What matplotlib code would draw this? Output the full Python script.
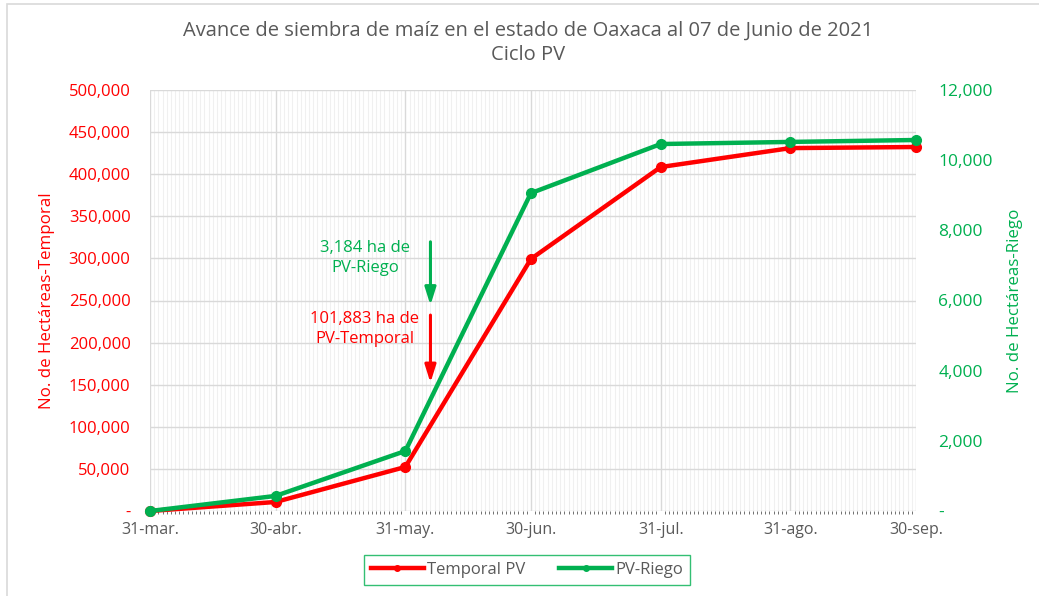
import datetime as dt
import matplotlib
matplotlib.use("Agg")
import matplotlib.pyplot as plt
import matplotlib.dates as mdates
from matplotlib.ticker import FuncFormatter, MultipleLocator, FixedLocator
from matplotlib.patches import Rectangle

plt.rcParams['font.family'] = ['Open Sans', 'DejaVu Sans']

# data
fechas = ["2021-03-31", "2021-04-30", "2021-05-31", "2021-06-30",
          "2021-07-31", "2021-08-31", "2021-09-30"]
etiquetas = ["31-mar.", "30-abr.", "31-may.", "30-jun.", "31-jul.", "31-ago.", "30-sep."]
temporal = [0, 10700, 52300, 299300, 408500, 431000, 432300]
riego = [0, 430, 1710, 9060, 10460, 10520, 10575]

ROJO = "#FF0000"
VERDE = "#00B050"
GRIS = "#595959"

x = [dt.datetime.strptime(f, "%Y-%m-%d") for f in fechas]
fecha_corte = dt.datetime(2021, 6, 6)

fig = plt.figure(figsize=(10.39, 5.96), dpi=100)
ax = fig.add_axes([150/1039, 85/596, 766/1039, 421/596])
ax2 = ax.twinx()

# grid: daily minor lines, month-end major lines
ax.set_xlim(x[0], x[-1])
ax.xaxis.set_major_locator(FixedLocator(mdates.date2num(x)))
ax.xaxis.set_minor_locator(mdates.DayLocator())
ax.set_xticklabels(etiquetas)
ax.grid(which="minor", axis="x", color="#F0F0F0", lw=0.8)
ax.grid(which="major", axis="x", color="#D9D9D9", lw=1.0)
ax.grid(which="major", axis="y", color="#D9D9D9", lw=1.0)
ax.set_axisbelow(True)

l1, = ax.plot(x, temporal, color=ROJO, lw=3.2, marker="o", ms=7, label="Temporal PV",
              zorder=3, clip_on=False)
l2, = ax2.plot(x, riego, color=VERDE, lw=3.2, marker="o", ms=7, label="PV-Riego",
               zorder=3, clip_on=False)

ax.set_ylim(0, 500000)
ax2.set_ylim(0, 12000)
ax.yaxis.set_major_locator(MultipleLocator(50000))
ax2.yaxis.set_major_locator(MultipleLocator(2000))

fmt = FuncFormatter(lambda v, p: "-" if v == 0 else f"{v:,.0f}")
ax.yaxis.set_major_formatter(fmt)
ax2.yaxis.set_major_formatter(fmt)

for a in (ax, ax2):
    for s in a.spines.values():
        s.set_visible(False)
    a.tick_params(length=0)

ax.tick_params(axis="y", colors=ROJO, labelsize=12, pad=14)
ax2.tick_params(axis="y", colors=VERDE, labelsize=12.5, pad=16)
ax.tick_params(axis="x", colors=GRIS, labelsize=11.5, pad=8, which="both")

ax.set_ylabel("No. de Hectáreas-Temporal", color=ROJO, fontsize=12.2, labelpad=10)
ax2.set_ylabel("No. de Hectáreas-Riego", color=VERDE, fontsize=12.2, labelpad=10)

# annotations
flecha = "-|>,head_width=0.22,head_length=0.7"
ax.annotate("", xy=(fecha_corte, 241000), xytext=(fecha_corte, 323000),
            arrowprops=dict(arrowstyle=flecha, color=VERDE, lw=2.2, mutation_scale=15))
ax.annotate("", xy=(fecha_corte, 149000), xytext=(fecha_corte, 236000),
            arrowprops=dict(arrowstyle=flecha, color=ROJO, lw=2.2, mutation_scale=15))
fig.text(365/1039, 1 - 258/596, "3,184 ha de\nPV-Riego",
         color=VERDE, fontsize=12, ha="center", va="center", linespacing=1.35)
fig.text(365/1039, 1 - 329/596, "101,883 ha de\nPV-Temporal",
         color=ROJO, fontsize=12, ha="center", va="center", linespacing=1.35)

fig.text(528/1039, 1 - 43/596, "Avance de siembra de maíz en el estado de Oaxaca al 07 de Junio de 2021\nCiclo PV",
         ha="center", va="center", color=GRIS, fontsize=14.5, linespacing=1.3)

leg = fig.legend(handles=[l1, l2], loc="center", bbox_to_anchor=(527/1039, 1 - 570/596),
                 ncol=2, frameon=True, fontsize=12, handlelength=3.2, handletextpad=0.2,
                 columnspacing=2.0, fancybox=False, borderpad=0.4)
leg.get_frame().set_edgecolor(VERDE)
leg.get_frame().set_linewidth(1.0)
for t in leg.get_texts():
    t.set_color(GRIS)
for h in leg.legend_handles:
    h.set_markersize(4)

fig.patches.append(Rectangle((7/1039, -0.05), 1.1, 1 - 4/596 + 0.05, transform=fig.transFigure,
                             fill=False, edgecolor="#D9D9D9", lw=1.2))

fig.savefig("out.png", dpi=100)
